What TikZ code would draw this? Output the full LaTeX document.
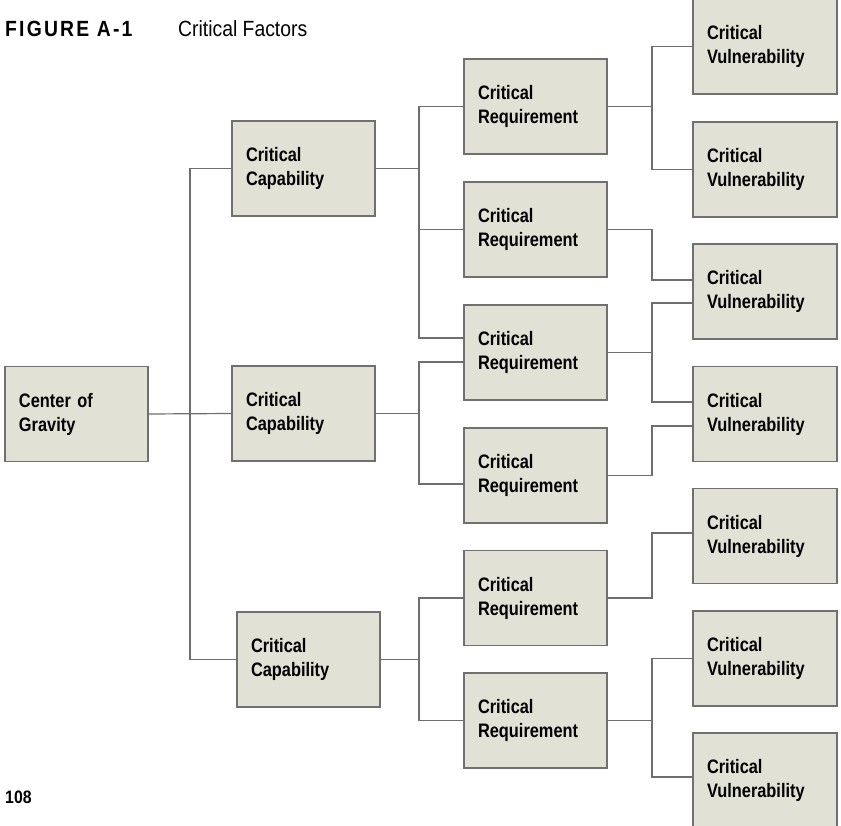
\documentclass[tikz,border=0pt]{standalone}
\usepackage{fontspec}
\setmainfont{Liberation Sans}[FakeStretch=0.88]
\newfontfamily\boxfont{Liberation Sans}[FakeStretch=0.84]
\begin{document}
\definecolor{boxfill}{RGB}{225,225,213}
\definecolor{boxline}{RGB}{112,112,112}
\definecolor{wire}{RGB}{110,110,110}
\begin{tikzpicture}[x=1pt,y=-1pt,
  factor/.style={draw=boxline, fill=boxfill, line width=1.4pt,
    minimum height=95pt, inner xsep=14pt, inner ysep=0pt, outer sep=0pt,
    text width=115pt, align=left,
    font=\boxfont\fontsize{19.5}{24}\selectfont\bfseries},
  vulbox/.style={factor, text width=116pt},
  link/.style={draw=wire, line width=1.2pt}]
\useasboundingbox (0,0) rectangle (841,826);

% title and page number
\node[anchor=base west, inner sep=0pt, font=\fontsize{22}{24}\selectfont\bfseries\addfontfeature{LetterSpace=10}]
  (figno) at (5,37) {FIGURE A-1};
\node[anchor=base west, inner sep=0pt, font=\fontsize{22}{24}\selectfont]
  (figtitle) at (178,37) {Critical Factors};
\node[anchor=base west, inner sep=0pt, font=\fontsize{18}{20}\selectfont\bfseries]
  (pageno) at (5,803) {108};

% column positions of the vertical connectors
\coordinate (c1) at (190,0);
\coordinate (c2) at (419,0);
\coordinate (c3) at (652,0);

% boxes
\node[factor] (cog)  at (76.5,414)   {Center of\\Gravity};
\node[factor] (cap1) at (303.5,168.5) {Critical\\Capability};
\node[factor] (cap2) at (303.5,413.5) {Critical\\Capability};
\node[factor] (cap3) at (308.5,659.5) {Critical\\Capability};

\node[factor] (req1) at (535.5,106.5) {Critical\\Requirement};
\node[factor] (req2) at (535.5,229.5) {Critical\\Requirement};
\node[factor] (req3) at (535.5,352.5) {Critical\\Requirement};
\node[factor] (req4) at (535.5,475.5) {Critical\\Requirement};
\node[factor] (req5) at (535.5,598)   {Critical\\Requirement};
\node[factor] (req6) at (535.5,720.5) {Critical\\Requirement};

\node[vulbox] (vul1) at (765,46.5)  {Critical\\Vulnerability};
\node[vulbox] (vul2) at (765,169.5) {Critical\\Vulnerability};
\node[vulbox] (vul3) at (765,291.5) {Critical\\Vulnerability};
\node[vulbox] (vul4) at (765,414)   {Critical\\Vulnerability};
\node[vulbox] (vul5) at (765,536)   {Critical\\Vulnerability};
\node[vulbox] (vul6) at (765,658.5) {Critical\\Vulnerability};
\node[vulbox] (vul7) at (765,780.5) {Critical\\Vulnerability};

% center of gravity to capabilities
\draw[link] (cog.east) -- (cap2.west);
\draw[link] (cap1.west) -- (cap1.west -| c1) -- (cap3.west -| c1) -- (cap3.west);

% capabilities to requirements
\draw[link] (cap1.east) -- (cap1.east -| c2);
\draw[link] (req1.west) -- (req1.west -| c2) -- ([yshift=14.5pt]req3.west -| c2) -- ([yshift=14.5pt]req3.west);
\draw[link] (req2.west) -- (req2.west -| c2);

\draw[link] (cap2.east) -- (cap2.east -| c2);
\draw[link] ([yshift=-9.5pt]req3.west) -- ([yshift=-9.5pt]req3.west -| c2) -- ([yshift=-8.5pt]req4.west -| c2) -- ([yshift=-8.5pt]req4.west);

\draw[link] (cap3.east) -- (cap3.east -| c2);
\draw[link] (req5.west) -- (req5.west -| c2) -- (req6.west -| c2) -- (req6.west);

% requirements to vulnerabilities
\draw[link] (req1.east) -- (req1.east -| c3);
\draw[link] (vul1.west) -- (vul1.west -| c3) -- (vul2.west -| c3) -- (vul2.west);

\draw[link] (req2.east) -- (req2.east -| c3) -- ([yshift=11.5pt]vul3.west -| c3) -- ([yshift=11.5pt]vul3.west);

\draw[link] (req3.east) -- (req3.east -| c3);
\draw[link] ([yshift=-11.5pt]vul3.west) -- ([yshift=-11.5pt]vul3.west -| c3) -- ([yshift=12pt]vul4.west -| c3) -- ([yshift=12pt]vul4.west);

\draw[link] (req4.east) -- (req4.east -| c3) -- ([yshift=-12pt]vul4.west -| c3) -- ([yshift=-12pt]vul4.west);

\draw[link] (req5.east) -- (req5.east -| c3) -- ([yshift=3pt]vul5.west -| c3) -- ([yshift=3pt]vul5.west);

\draw[link] (req6.east) -- (req6.east -| c3);
\draw[link] (vul6.west) -- (vul6.west -| c3) -- ([yshift=3.5pt]vul7.west -| c3) -- ([yshift=3.5pt]vul7.west);
\end{tikzpicture}
\end{document}
